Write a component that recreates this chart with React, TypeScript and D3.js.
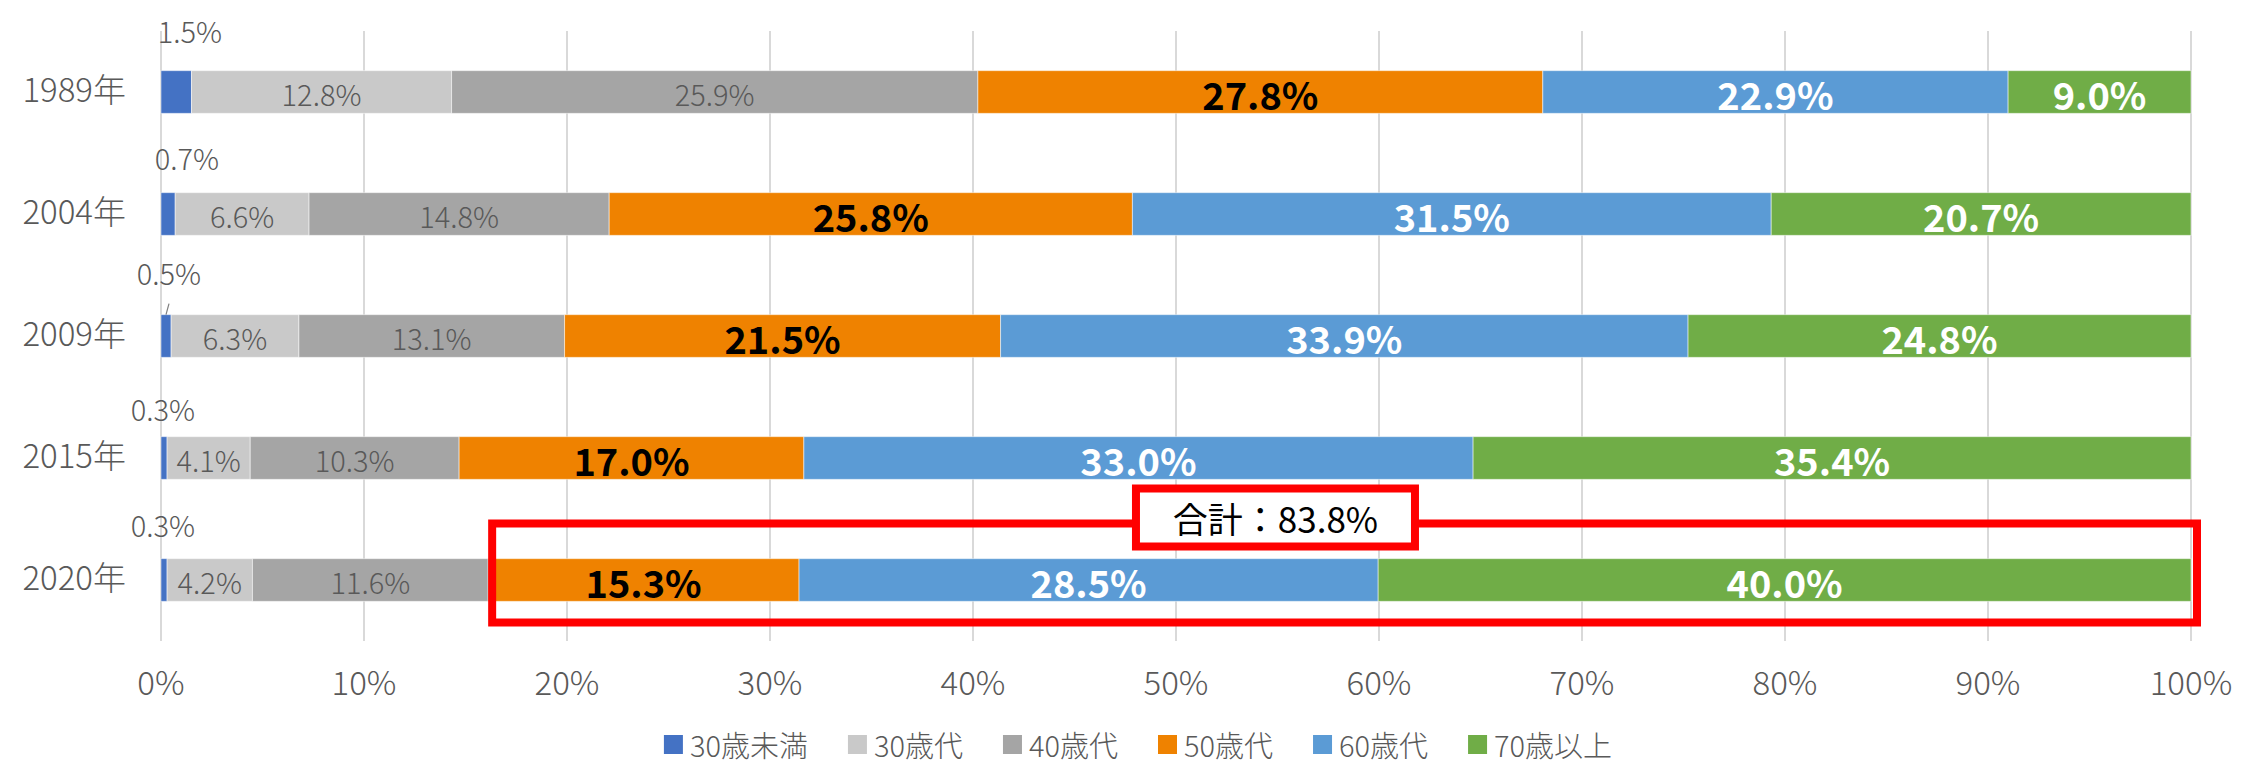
import React, { useEffect, useRef } from 'react';
import * as d3 from 'd3';

const years = ['1989年', '2004年', '2009年', '2015年', '2020年'];
const ageGroups = ['30歳未満', '30歳代', '40歳代', '50歳代', '60歳代', '70歳以上'];

// share of each age group (%), one value per survey year
const under30 = [1.5, 0.7, 0.5, 0.3, 0.3];
const age30s = [12.8, 6.6, 6.3, 4.1, 4.2];
const age40s = [25.9, 14.8, 13.1, 10.3, 11.6];
const age50s = [27.8, 25.8, 21.5, 17.0, 15.3];
const age60s = [22.9, 31.5, 33.9, 33.0, 28.5];
const over70 = [9.0, 20.7, 24.8, 35.4, 40.0];

const colors = ['#4472C4', '#C9C9C9', '#A5A5A5', '#EF8200', '#5B9BD5', '#70AD47'];

// the small "30歳未満" labels were hand-placed above the bars
const smallLabelDx = [29, 26, 8, 2, 2];
const smallLabelDy = [-41, -36, -43, -29, -35];

const FONT = '"Noto Sans CJK JP", "Noto Sans", sans-serif';

const App = () => {
  const svgRef = useRef<SVGSVGElement>(null);

  useEffect(() => {
    if (!svgRef.current) return;
    const svg = d3.select(svgRef.current);
    svg.selectAll('*').remove();

    const series = [under30, age30s, age40s, age50s, age60s, over70];
    const rows = years.map((yr, i) => {
      const r: any = { year: yr };
      ageGroups.forEach((g, k) => (r[g] = series[k][i]));
      return r;
    });

    const stacked = d3.stack<any>().keys(ageGroups).offset(d3.stackOffsetExpand)(rows);

    const x = d3.scaleLinear().domain([0, 1]).range([161, 2191]);
    const y = d3.scaleBand().domain(years).range([31, 641]).paddingInner(0.65).paddingOuter(0.325);

    // gridlines
    svg.append('g')
      .selectAll('line')
      .data(x.ticks(10))
      .enter()
      .append('line')
      .attr('x1', d => x(d))
      .attr('x2', d => x(d))
      .attr('y1', 31)
      .attr('y2', 641)
      .attr('stroke', '#D9D9D9')
      .attr('stroke-width', 2);

    // x tick labels
    svg.append('g')
      .selectAll('text')
      .data(x.ticks(10))
      .enter()
      .append('text')
      .attr('x', d => x(d))
      .attr('y', 681)
      .attr('text-anchor', 'middle')
      .attr('dominant-baseline', 'central')
      .attr('font-family', FONT)
      .attr('font-size', 33)
      .attr('font-weight', 300)
      .attr('fill', '#595959')
      .text(d => d3.format('.0%')(d));

    // y labels
    svg.append('g')
      .selectAll('text')
      .data(years)
      .enter()
      .append('text')
      .attr('x', 126)
      .attr('y', d => (y(d) as number) + y.bandwidth() / 2 - 4)
      .attr('text-anchor', 'end')
      .attr('dominant-baseline', 'central')
      .attr('font-family', FONT)
      .attr('font-size', 33)
      .attr('font-weight', 300)
      .attr('fill', '#595959')
      .text(d => d);

    // bars
    const layers = svg.append('g')
      .selectAll('g')
      .data(stacked)
      .enter()
      .append('g')
      .attr('fill', (_, k) => colors[k]);

    layers.selectAll('rect')
      .data(d => d)
      .enter()
      .append('rect')
      .attr('x', d => x(d[0]))
      .attr('y', d => y(d.data.year) as number)
      .attr('width', d => x(d[1]) - x(d[0]))
      .attr('height', y.bandwidth())
      .attr('stroke', '#ffffff')
      .attr('stroke-opacity', 0.5)
      .attr('stroke-width', 1);

    // labels inside bars
    stacked.forEach((layer, k) => {
      if (k === 0) return;
      const bold = k >= 3;
      svg.append('g')
        .selectAll('text')
        .data(layer)
        .enter()
        .append('text')
        .attr('x', d => (x(d[0]) + x(d[1])) / 2)
        .attr('y', d => (y(d.data.year) as number) + y.bandwidth() / 2 + 1)
        .attr('text-anchor', 'middle')
        .attr('dominant-baseline', 'central')
        .attr('font-family', FONT)
        .attr('font-size', bold ? 38 : 29)
        .attr('font-weight', bold ? 'bold' : 300)
        .attr('fill', k === 3 ? '#000000' : bold ? '#ffffff' : '#595959')
        .text(d => d.data[ageGroups[k]].toFixed(1) + '%');
    });

    // under-30 labels above the bars
    svg.append('g')
      .selectAll('text')
      .data(stacked[0])
      .enter()
      .append('text')
      .attr('x', (d, i) => x(d[0]) + smallLabelDx[i])
      .attr('y', (d, i) => (y(d.data.year) as number) + smallLabelDy[i])
      .attr('text-anchor', 'middle')
      .attr('dominant-baseline', 'central')
      .attr('font-family', FONT)
      .attr('font-size', 29)
      .attr('font-weight', 300)
      .attr('fill', '#595959')
      .text(d => d.data[ageGroups[0]].toFixed(1) + '%');

    // leader line for 2009
    const y2009 = y('2009年') as number;
    svg.append('line')
      .attr('x1', x(0) + 8)
      .attr('y1', y2009 - 11)
      .attr('x2', x(0) + 5)
      .attr('y2', y2009)
      .attr('stroke', '#7F7F7F')
      .attr('stroke-width', 1.2);

    // red highlight box around 50s+ in 2020
    const last = years.length - 1;
    const y2020 = (y(years[last]) as number) + y.bandwidth() / 2;
    const boxStart = stacked[3][last][0];
    svg.append('rect')
      .attr('x', x(boxStart) + 4)
      .attr('y', y2020 - 56.5)
      .attr('width', x(1) + 6 - (x(boxStart) + 4))
      .attr('height', 99)
      .attr('fill', 'none')
      .attr('stroke', '#FF0000')
      .attr('stroke-width', 8);

    const total = age50s[last] + age60s[last] + over70[last];
    const cx = x(0.549);
    svg.append('rect')
      .attr('x', cx - 139.5)
      .attr('y', y2020 - 91.5)
      .attr('width', 279)
      .attr('height', 58)
      .attr('fill', '#ffffff')
      .attr('stroke', '#FF0000')
      .attr('stroke-width', 8);
    svg.append('text')
      .attr('x', cx)
      .attr('y', y2020 - 62.5)
      .attr('text-anchor', 'middle')
      .attr('dominant-baseline', 'central')
      .attr('font-family', FONT)
      .attr('font-size', 35)
      .attr('fill', '#000000')
      .text(`合計：${total.toFixed(1)}%`);

    // legend
    const legend = svg.append('g');
    let cursor = 0;
    ageGroups.forEach((g, k) => {
      const item = legend.append('g').attr('transform', `translate(${cursor},0)`);
      item.append('rect')
        .attr('x', 0)
        .attr('y', -9)
        .attr('width', 19)
        .attr('height', 19)
        .attr('fill', colors[k]);
      const t = item.append('text')
        .attr('x', 26)
        .attr('y', 0)
        .attr('dominant-baseline', 'central')
        .attr('font-family', FONT)
        .attr('font-size', 29)
        .attr('font-weight', 300)
        .attr('fill', '#595959')
        .text(g);
      const w = (t.node() as SVGTextElement).getComputedTextLength();
      cursor += 26 + w + 40;
    });
    const legendWidth = cursor - 40;
    legend.attr('transform', `translate(${1138 - legendWidth / 2},744)`);
  }, []);

  return (
    <div>
      <style>{'body{margin:0;overflow:hidden;background:#fff}'}</style>
      <svg ref={svgRef} width={2241} height={768} style={{ display: 'block' }} />
    </div>
  );
};

export default App;
